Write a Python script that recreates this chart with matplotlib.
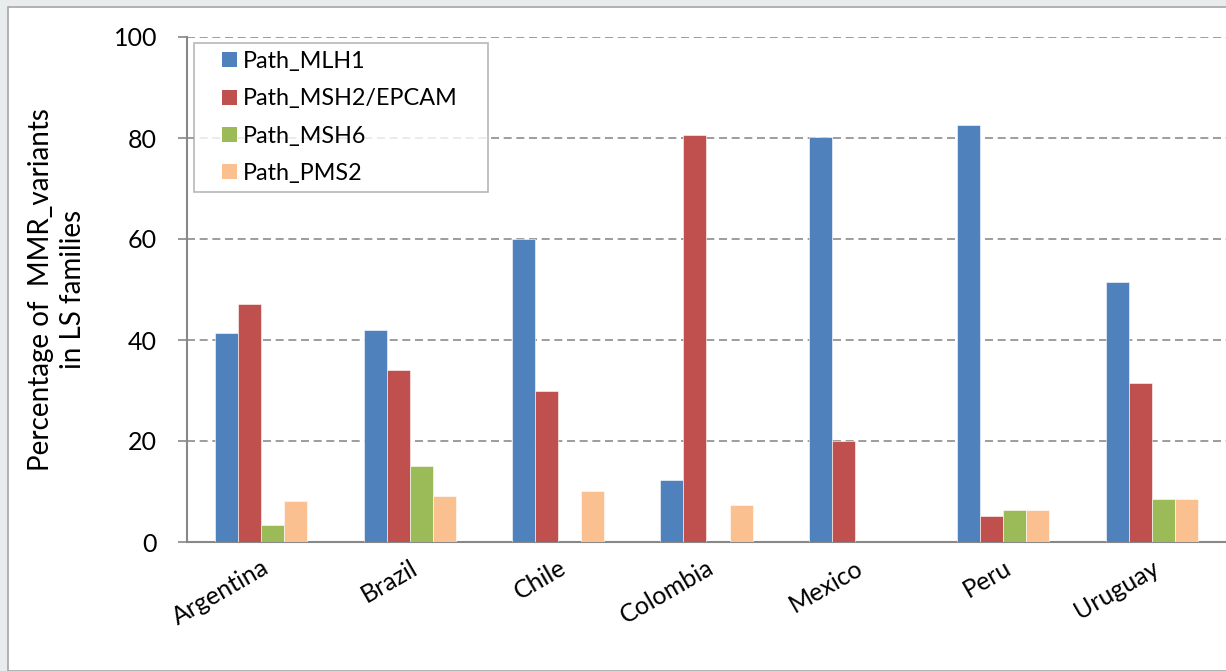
import numpy as np
import matplotlib
matplotlib.use("Agg")
import matplotlib.pyplot as plt
from matplotlib.patches import Rectangle
from matplotlib.legend_handler import HandlerPatch

countries = ["Argentina", "Brazil", "Chile", "Colombia", "Mexico", "Peru", "Uruguay"]
series_names = ["Path_MLH1", "Path_MSH2/EPCAM", "Path_MSH6", "Path_PMS2"]
mlh1 = [41.4, 42.0, 60.0, 12.2, 80.2, 82.5, 51.4]
msh2 = [47.2, 34.0, 30.0, 80.6, 20.0, 5.1, 31.4]
msh6 = [3.4, 15.0, 0.0, 0.0, 0.0, 6.3, 8.6]
pms2 = [8.1, 9.1, 10.1, 7.3, 0.0, 6.3, 8.6]
colors = ["#4F81BD", "#C0504D", "#9BBB59", "#FAC090"]

plt.rcParams["font.family"] = ["Lato", "DejaVu Sans"]


class SquareAtRight(HandlerPatch):
    """Small square key pushed to the right end of the handle box."""

    def create_artists(self, legend, orig_handle, xdescent, ydescent,
                       width, height, fontsize, trans):
        side = 0.64 * fontsize
        sq = Rectangle((width - side - xdescent, -ydescent + (height - side) / 2), side, side,
                       facecolor=orig_handle.get_facecolor(), edgecolor="none")
        sq.set_transform(trans)
        return [sq]


fig = plt.figure(figsize=(12.26, 6.71), dpi=100)
fig.patch.set_facecolor("#E9ECEC")
# white chart area with a thin grey frame, kept behind the axes
fig.patches.append(Rectangle((8 / 1226, 0), 1.0, 1 - 7 / 671, transform=fig.transFigure,
                             facecolor="white", edgecolor="#A6A6A6", lw=1.2, zorder=-10))

ax = fig.add_axes([187 / 1226, 129 / 671, 1 - 187 / 1226, 505 / 671])
ax.set_zorder(5)
ax.set_facecolor("none")

x = np.arange(len(countries))
w = 0.155
bars = []
for i, (vals, name) in enumerate(zip([mlh1, msh2, msh6, pms2], series_names)):
    b = ax.bar(x + (i - 1.5) * w, vals, w, color=colors[i], label=name,
               edgecolor="white", linewidth=0.4, zorder=3)
    bars.append(b)

ax.set_xlim(-0.5, len(countries) - 0.5)
ax.set_ylim(0, 100)
ax.set_yticks(range(0, 101, 20))
ax.yaxis.grid(True, linestyle=(0, (4.8, 2.8)), color="#8C8C8C", lw=1.2, zorder=1)
for s in ["top", "right"]:
    ax.spines[s].set_visible(False)
for s in ["left", "bottom"]:
    ax.spines[s].set_color("#888888")
    ax.spines[s].set_linewidth(1.5)
ax.tick_params(axis="y", length=6.5, width=1.2, color="#888888", labelsize=18, pad=15)
ax.tick_params(axis="x", length=0, labelsize=18, pad=10)
ax.set_xticks(x)
ax.set_xticklabels(countries, rotation=30, ha="right", rotation_mode="anchor")
ax.set_ylabel("Percentage of  MMR_variants\nin LS families", fontsize=20, labelpad=20,
              linespacing=1.3)

leg_w = (488 - 194) / 1039
leg_h = (191 - 43) / 505
leg = ax.legend(handles=[b.patches[0] for b in bars], labels=series_names,
                handler_map={Rectangle: SquareAtRight()},
                loc="upper left", bbox_to_anchor=(7 / 1039, (542 - 43) / 505 - leg_h, leg_w, leg_h),
                mode="expand", borderaxespad=0, fontsize=16.8,
                frameon=True, fancybox=False, edgecolor="#A6A6A6", borderpad=0.35,
                handlelength=1.5, handleheight=0.64, handletextpad=0.26, labelspacing=0.7)
leg.get_frame().set_linewidth(1.2)

fig.savefig("out.png", dpi=100, facecolor=fig.get_facecolor())
